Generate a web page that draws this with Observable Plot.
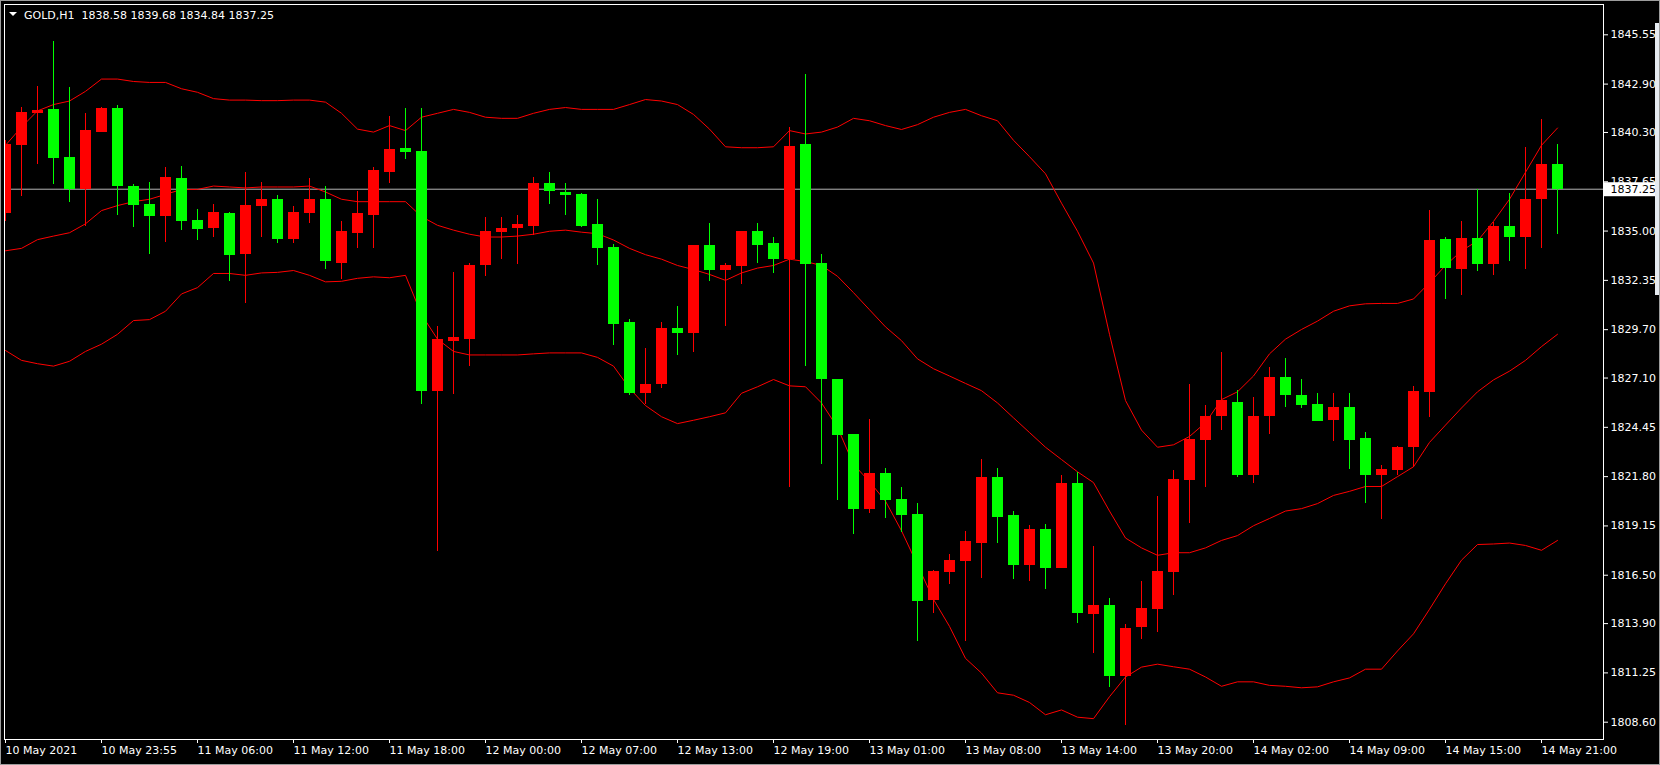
<!DOCTYPE html>
<html>
<head>
<meta charset="utf-8">
<script src="https://cdn.jsdelivr.net/npm/d3@7"></script>
<script src="https://cdn.jsdelivr.net/npm/@observablehq/plot@0.6"></script>
<style>
html, body { margin: 0; padding: 0; background: #000; }
#wrap { position: relative; width: 1660px; height: 765px; overflow: hidden; background: #000; }
#chart svg { display: block; }
#title { position: absolute; left: 24px; top: 9px; font: 11px "DejaVu Sans"; line-height: 13px; color: #fff; white-space: pre; }
#tri { position: absolute; left: 9px; top: 12px; width: 0; height: 0; border-left: 4px solid transparent; border-right: 4px solid transparent; border-top: 4px solid #fff; }
#edge { position: absolute; left: 1655px; top: 23px; width: 5px; height: 272px; background: #e6ebf1; }
#border { position: absolute; left: 0; top: 0; width: 1660px; height: 765px; box-sizing: border-box; border: 1px solid #9c9c9c; pointer-events: none; }
</style>
</head>
<body>
<div id="wrap">
  <div id="chart"></div>
  <div id="tri"></div>
  <div id="title"></div>
  <div id="edge"></div>
  <div id="border"></div>
</div>
<script>
// ---- Data (GOLD, H1) ----
const symbol = "GOLD,H1";

const open = [
  1835.92, 1839.61, 1841.33, 1841.54, 1838.95, 1837.24, 1840.32, 1841.59, 1837.37, 1836.44,
  1835.78, 1837.82, 1835.55, 1835.13, 1835.92, 1833.73, 1836.31, 1836.71, 1834.52, 1835.92,
  1836.71, 1833.28, 1834.86, 1835.86, 1838.16, 1839.43, 1839.30, 1826.36, 1829.08, 1829.19,
  1833.15, 1834.94, 1835.13, 1835.26, 1837.55, 1837.05, 1836.95, 1835.34, 1834.12, 1830.06,
  1826.28, 1826.73, 1829.77, 1829.50, 1834.20, 1832.88, 1833.07, 1835.00, 1834.31, 1833.46,
  1839.66, 1833.28, 1827.02, 1824.04, 1820.03, 1821.98, 1820.56, 1819.74, 1815.12, 1816.65,
  1817.23, 1818.18, 1821.74, 1819.69, 1817.00, 1818.97, 1816.86, 1821.45, 1814.41, 1814.88,
  1811.06, 1813.67, 1814.67, 1816.65, 1821.61, 1823.72, 1825.02, 1825.81, 1821.88, 1825.02,
  1827.13, 1826.15, 1825.68, 1824.80, 1825.54, 1823.83, 1821.88, 1822.11, 1823.38, 1826.34,
  1834.52, 1832.96, 1834.60, 1833.22, 1835.26, 1834.65, 1836.71, 1838.58
];
const high = [
  1839.88, 1841.64, 1842.75, 1845.18, 1842.70, 1841.33, 1841.62, 1841.75, 1837.50, 1837.63,
  1838.42, 1838.48, 1836.18, 1836.44, 1836.00, 1838.16, 1837.63, 1836.92, 1836.31, 1837.82,
  1837.37, 1835.52, 1837.10, 1838.42, 1841.14, 1841.59, 1841.59, 1829.85, 1832.75, 1833.28,
  1835.73, 1835.71, 1835.86, 1837.90, 1838.16, 1837.55, 1837.00, 1836.71, 1834.28, 1830.24,
  1828.71, 1830.06, 1830.96, 1834.25, 1835.39, 1833.28, 1835.00, 1835.39, 1834.68, 1840.59,
  1843.39, 1833.75, 1827.02, 1824.04, 1824.88, 1822.25, 1821.22, 1820.35, 1816.78, 1817.63,
  1818.84, 1822.72, 1822.25, 1819.95, 1819.16, 1819.24, 1821.85, 1822.01, 1818.05, 1815.25,
  1813.83, 1816.17, 1820.74, 1822.11, 1826.73, 1825.62, 1828.47, 1826.42, 1826.07, 1827.68,
  1828.13, 1827.02, 1826.28, 1826.28, 1826.28, 1824.17, 1822.40, 1823.43, 1826.63, 1836.10,
  1834.68, 1835.52, 1837.24, 1835.47, 1837.02, 1839.48, 1840.98, 1839.68
];
const low = [
  1835.52, 1836.84, 1838.56, 1837.50, 1836.52, 1835.26, 1840.30, 1835.84, 1835.20, 1833.73,
  1834.39, 1835.05, 1834.47, 1834.65, 1832.30, 1831.09, 1834.65, 1834.33, 1834.33, 1835.39,
  1832.93, 1832.41, 1834.07, 1834.07, 1837.58, 1838.87, 1825.68, 1817.79, 1826.23, 1827.73,
  1832.57, 1833.49, 1833.22, 1834.78, 1836.44, 1835.84, 1835.20, 1833.15, 1828.84, 1826.15,
  1825.70, 1826.55, 1828.32, 1828.47, 1832.30, 1829.85, 1832.14, 1833.28, 1832.70, 1821.19,
  1827.73, 1822.46, 1820.53, 1818.71, 1819.82, 1819.55, 1818.81, 1812.96, 1814.46, 1815.99,
  1812.96, 1816.33, 1818.18, 1816.25, 1816.17, 1815.73, 1816.86, 1813.88, 1812.30, 1810.45,
  1808.42, 1813.03, 1813.40, 1815.41, 1819.29, 1821.19, 1824.30, 1821.74, 1821.45, 1824.09,
  1825.49, 1825.44, 1824.75, 1823.70, 1822.19, 1820.35, 1819.50, 1821.85, 1822.27, 1824.96,
  1831.30, 1831.51, 1832.80, 1832.62, 1833.36, 1832.96, 1834.07, 1834.84
];
const close = [
  1839.66, 1841.38, 1841.46, 1838.90, 1837.24, 1840.40, 1841.59, 1837.37, 1836.39, 1835.78,
  1837.90, 1835.52, 1835.10, 1836.00, 1833.67, 1836.37, 1836.71, 1834.52, 1836.00, 1836.71,
  1833.36, 1835.00, 1835.92, 1838.24, 1839.40, 1839.22, 1826.36, 1829.19, 1829.29, 1833.15,
  1835.00, 1835.13, 1835.34, 1837.55, 1837.10, 1836.89, 1835.26, 1834.07, 1829.98, 1826.28,
  1826.76, 1829.77, 1829.50, 1834.20, 1832.88, 1833.15, 1835.00, 1834.20, 1833.49, 1839.56,
  1833.22, 1827.02, 1823.99, 1820.03, 1821.98, 1820.53, 1819.69, 1815.07, 1816.70, 1817.31,
  1818.29, 1821.74, 1819.61, 1817.00, 1818.97, 1816.86, 1821.45, 1814.46, 1814.88, 1811.06,
  1813.62, 1814.72, 1816.70, 1821.67, 1823.77, 1825.04, 1825.89, 1821.85, 1825.04, 1827.13,
  1826.15, 1825.62, 1824.75, 1825.54, 1823.72, 1821.88, 1822.19, 1823.38, 1826.36, 1834.47,
  1833.01, 1834.60, 1833.22, 1835.26, 1834.65, 1836.71, 1838.56, 1837.25
];

// Bollinger bands as drawn on the chart
const bbUpper = [
  1839.61, 1840.59, 1841.46, 1841.80, 1841.99, 1842.51, 1843.17, 1843.17, 1843.04, 1842.99,
  1842.99, 1842.65, 1842.46, 1842.12, 1842.04, 1842.04, 1842.01, 1842.01, 1842.04, 1842.04,
  1841.93, 1841.33, 1840.48, 1840.32, 1840.67, 1840.40, 1841.12, 1841.33, 1841.54, 1841.38,
  1841.12, 1841.06, 1841.06, 1841.33, 1841.54, 1841.64, 1841.54, 1841.54, 1841.54, 1841.80,
  1842.07, 1841.99, 1841.80, 1841.27, 1840.48, 1839.53, 1839.48, 1839.48, 1839.53, 1840.40,
  1840.22, 1840.32, 1840.59, 1841.06, 1840.93, 1840.67, 1840.46, 1840.72, 1841.12, 1841.38,
  1841.54, 1841.20, 1840.93, 1839.88, 1839.00, 1838.08, 1836.50, 1834.99, 1833.28, 1829.45,
  1825.89, 1824.30, 1823.38, 1823.51, 1823.96, 1824.70, 1825.94, 1826.36, 1827.21, 1828.40,
  1829.19, 1829.71, 1830.16, 1830.69, 1830.98, 1831.09, 1831.11, 1831.11, 1831.35, 1832.22,
  1833.15, 1833.94, 1834.47, 1835.52, 1836.71, 1838.16, 1839.61, 1840.54
];
const bbMiddle = [
  1833.94, 1834.07, 1834.54, 1834.73, 1834.91, 1835.39, 1836.10, 1836.37, 1836.58, 1836.71,
  1836.97, 1837.24, 1837.24, 1837.42, 1837.37, 1837.32, 1837.37, 1837.37, 1837.37, 1837.42,
  1837.10, 1836.71, 1836.58, 1836.58, 1836.58, 1836.58, 1835.78, 1835.31, 1835.05, 1834.83,
  1834.68, 1834.68, 1834.73, 1834.83, 1834.99, 1835.05, 1834.94, 1834.86, 1834.52, 1834.07,
  1833.73, 1833.49, 1833.15, 1832.93, 1832.67, 1832.35, 1832.75, 1833.01, 1833.15, 1833.49,
  1833.36, 1833.15, 1832.57, 1831.69, 1830.77, 1829.85, 1829.11, 1828.13, 1827.60, 1827.21,
  1826.81, 1826.42, 1825.76, 1824.96, 1824.17, 1823.38, 1822.72, 1822.06, 1821.48, 1819.95,
  1818.50, 1817.97, 1817.57, 1817.71, 1817.71, 1817.97, 1818.37, 1818.63, 1819.16, 1819.55,
  1819.95, 1820.08, 1820.35, 1820.79, 1821.01, 1821.27, 1821.27, 1821.80, 1822.33, 1823.64,
  1824.57, 1825.49, 1826.36, 1827.00, 1827.47, 1828.05, 1828.79, 1829.45
];
const bbLower = [
  1828.58, 1828.05, 1827.87, 1827.74, 1828.00, 1828.53, 1828.92, 1829.45, 1830.19, 1830.24,
  1830.69, 1831.62, 1831.96, 1832.72, 1832.72, 1832.62, 1832.75, 1832.78, 1832.88, 1832.62,
  1832.27, 1832.30, 1832.46, 1832.54, 1832.49, 1832.62, 1830.51, 1829.19, 1828.53, 1828.34,
  1828.34, 1828.34, 1828.34, 1828.40, 1828.45, 1828.45, 1828.45, 1828.21, 1827.74, 1826.55,
  1825.62, 1825.02, 1824.65, 1824.83, 1825.02, 1825.23, 1826.28, 1826.63, 1827.02, 1826.68,
  1826.63, 1825.76, 1824.44, 1822.46, 1821.53, 1820.48, 1818.89, 1817.05, 1815.20, 1813.75,
  1812.03, 1811.24, 1810.18, 1810.05, 1809.66, 1809.00, 1809.26, 1808.87, 1808.79, 1809.97,
  1811.03, 1811.56, 1811.72, 1811.58, 1811.45, 1811.03, 1810.53, 1810.77, 1810.77, 1810.58,
  1810.53, 1810.45, 1810.50, 1810.77, 1810.98, 1811.45, 1811.45, 1812.43, 1813.35, 1814.67,
  1816.04, 1817.31, 1818.15, 1818.18, 1818.23, 1818.10, 1817.84, 1818.37
];

// Axis ticks
const yTicks = [1845.55, 1842.90, 1840.30, 1837.65, 1835.00, 1832.35, 1829.70, 1827.10,
                1824.45, 1821.80, 1819.15, 1816.50, 1813.90, 1811.25, 1808.60];
const xTickIdx = [0, 6, 12, 18, 24, 30, 36, 42, 48, 54, 60, 66, 72, 78, 84, 90, 96];
const xTickLabels = ["10 May 2021", "10 May 23:55", "11 May 06:00", "11 May 12:00", "11 May 18:00",
  "12 May 00:00", "12 May 07:00", "12 May 13:00", "12 May 19:00", "13 May 01:00", "13 May 08:00",
  "13 May 14:00", "13 May 20:00", "14 May 02:00", "14 May 09:00", "14 May 15:00", "14 May 21:00"];

// ---- Build ----
const BULL = "#ff0000", BEAR = "#00ff00", BAND = "#ff0000";
const n = open.length;
const last = n - 1;
const lastPrice = close[last];
const candles = d3.range(n).map(i => ({i, o: open[i], h: high[i], l: low[i], c: close[i], col: close[i] >= open[i] ? BULL : BEAR}));
const bands = d3.range(n).map(i => ({i, u: bbUpper[i], m: bbMiddle[i], lo: bbLower[i]}));

document.getElementById("title").textContent =
  `${symbol}  ${open[last].toFixed(2)} ${high[last].toFixed(2)} ${low[last].toFixed(2)} ${close[last].toFixed(2)}`;

const halfBody = 0.34375; // body width in candle slots

const chart = Plot.plot({
  width: 1660,
  height: 765,
  marginLeft: 4,
  marginTop: 4,
  marginRight: 57,
  marginBottom: 26,
  style: {background: "#000", color: "#fff", fontFamily: "DejaVu Sans", fontSize: "11px"},
  x: {type: "linear", domain: [0, n - 1], range: [5, 5 + 16 * (n - 1)], label: null},
  y: {type: "linear", domain: [yTicks[yTicks.length - 1], yTicks[0]], range: [721.7, 34.3], label: null},
  marks: [
    Plot.ruleY([lastPrice], {stroke: "#b4b4b4", strokeWidth: 1, clip: true}),
    Plot.line(bands, {x: "i", y: "u", stroke: BAND, strokeWidth: 1, clip: true}),
    Plot.line(bands, {x: "i", y: "m", stroke: BAND, strokeWidth: 1, clip: true}),
    Plot.line(bands, {x: "i", y: "lo", stroke: BAND, strokeWidth: 1, clip: true}),
    Plot.ruleX(candles, {x: "i", y1: "l", y2: "h", stroke: "col", strokeWidth: 1, clip: true, shapeRendering: "crispEdges"}),
    Plot.rect(candles, {x1: d => d.i - halfBody, x2: d => d.i + halfBody, y1: "o", y2: "c", fill: "col", clip: true, shapeRendering: "crispEdges"}),
    Plot.frame({stroke: "#ffffff", shapeRendering: "crispEdges"}),
    Plot.axisY(yTicks, {anchor: "right", tickSize: 4, tickPadding: 3, tickFormat: d => d.toFixed(2), color: "#ffffff", label: null, fontSize: 11}),
    Plot.axisX(xTickIdx, {anchor: "bottom", tickSize: 4, tickPadding: 3, textAnchor: "start",
      tickFormat: d => xTickLabels[xTickIdx.indexOf(d)], color: "#ffffff", label: null, fontSize: 11})
  ]
});
document.getElementById("chart").appendChild(chart);

// Last-price label in a white box on the price axis, positioned through the y scale
const svgNS = "http://www.w3.org/2000/svg";
const yPix = chart.scale("y").apply(lastPrice) + 0.5;
const axisLeft = 1660 - 57 + 0.5;
const g = document.createElementNS(svgNS, "g");
const box = document.createElementNS(svgNS, "rect");
const lbl = document.createElementNS(svgNS, "text");
lbl.textContent = lastPrice.toFixed(2);
lbl.setAttribute("x", axisLeft + 7);
lbl.setAttribute("y", yPix);
lbl.setAttribute("dy", "0.32em");
lbl.setAttribute("fill", "#000");
lbl.setAttribute("text-anchor", "start");
lbl.setAttribute("font-family", "DejaVu Sans");
lbl.setAttribute("font-size", "11");
g.setAttribute("text-anchor", "start");
g.appendChild(box);
g.appendChild(lbl);
chart.appendChild(g);
const bb = lbl.getBBox();
box.setAttribute("x", axisLeft);
box.setAttribute("y", yPix - 7);
box.setAttribute("width", Math.max(bb.x + bb.width - axisLeft, 52));
box.setAttribute("height", 14);
box.setAttribute("fill", "#fff");
</script>
</body>
</html>
